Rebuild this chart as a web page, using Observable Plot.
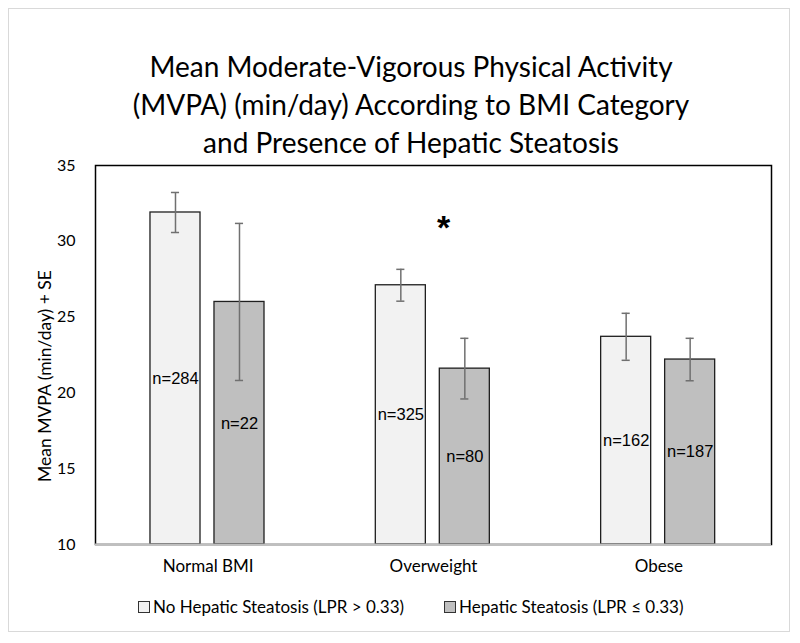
<!DOCTYPE html>
<html>
<head>
<meta charset="utf-8">
<script src="https://cdn.jsdelivr.net/npm/d3@7"></script>
<script src="https://cdn.jsdelivr.net/npm/@observablehq/plot@0.6"></script>
<style>
  body { margin: 0; background: #fff; }
  #wrap { position: relative; width: 800px; height: 643px; background: #fff; overflow: hidden; }
  #border { position: absolute; left: 8px; top: 8px; width: 782px; height: 624px; border: 1px solid #d9d9d9; box-sizing: border-box; }
  #title { position: absolute; left: 0; top: 47px; width: 822px; text-align: center; font-family: Lato, sans-serif; font-size: 28px; line-height: 38px; color: #000; }
  #chart { position: absolute; left: 0; top: 155px; }
  #legend { position: absolute; top: 596px; left: 138px; display: flex; align-items: center; font-family: Lato, sans-serif; font-size: 17px; color: #000; }
  .item { display: flex; align-items: center; }
  .sw { width: 10px; height: 10px; border: 1px solid #333; margin-right: 3px; }
</style>
</head>
<body>
<div id="wrap">
  <div id="border"></div>
  <div id="title">Mean Moderate-Vigorous Physical Activity<br>(MVPA) (min/day) According to BMI Category<br>and Presence of Hepatic Steatosis</div>
  <div id="chart"></div>
  <div id="legend"></div>
</div>
<script>
// ---- data ----
const categories = ["Normal BMI", "Overweight", "Obese"];
const series = ["No Hepatic Steatosis (LPR > 0.33)", "Hepatic Steatosis (LPR \u2264 0.33)"];
const noMean = [31.9, 27.1, 23.7];
const noSE = [1.32, 1.05, 1.55];
const noN = [284, 325, 162];
const hepMean = [26.0, 21.6, 22.2];
const hepSE = [5.18, 2.0, 1.4];
const hepN = [22, 80, 187];
const yTicks = [10, 15, 20, 25, 30, 35];
const yLabel = "Mean MVPA (min/day) + SE";
const annotations = [{category: "Overweight", label: "*", value: 30.9}];

// ---- layout ----
const seriesColors = ["#f2f2f2", "#bfbfbf"];
const slots = [[0.244, 0.466], [0.528, 0.75]];
const capHalf = 0.018;

const rows = [];
categories.forEach((c, i) => {
  [[noMean, noSE, noN], [hepMean, hepSE, hepN]].forEach(([m, s, n], k) => {
    rows.push({category: c, series: series[k], k, i, mean: m[i], se: s[i], n: n[i],
      x1: i + slots[k][0], x2: i + slots[k][1], xc: i + (slots[k][0] + slots[k][1]) / 2});
  });
});
const catIndex = new Map(categories.map((c, i) => [c, i]));

const chart = Plot.plot({
  width: 800,
  height: 424,
  marginLeft: 95,
  marginRight: 29,
  marginTop: 10,
  marginBottom: 35,
  style: {fontFamily: "Lato, sans-serif", fontSize: "16px", color: "#000", background: "transparent"},
  x: {domain: [0, 3], ticks: categories.map((c, i) => i + 0.5), tickFormat: d => categories[Math.floor(d)], tickSize: 0, tickPadding: 15, label: null},
  y: {domain: [10, 35], ticks: yTicks, tickSize: 0, tickPadding: 20, label: null},
  marks: [
    Plot.rectY(rows, {x1: "x1", x2: "x2", y1: 10, y2: "mean", fill: d => seriesColors[d.k], stroke: "#1f1f1f", strokeWidth: 1.3}),
    Plot.ruleX(rows, {x: "xc", y1: d => d.mean - d.se, y2: d => d.mean + d.se, stroke: "#707070", strokeWidth: 1.5}),
    Plot.ruleY(rows, {x1: d => d.xc - capHalf, x2: d => d.xc + capHalf, y: d => d.mean + d.se, stroke: "#707070", strokeWidth: 1.5}),
    Plot.ruleY(rows, {x1: d => d.xc - capHalf, x2: d => d.xc + capHalf, y: d => d.mean - d.se, stroke: "#707070", strokeWidth: 1.5}),
    Plot.text(rows, {x: "xc", y: d => (d.mean + 10) / 2, text: d => "n=" + d.n, fontFamily: "Liberation Sans, Arial, sans-serif", fontSize: 16.5, fill: "#000"}),
    Plot.text(annotations, {x: d => catIndex.get(d.category) + 0.5, y: "value", text: "label", dx: 10, fontFamily: "Liberation Sans, Arial, sans-serif", fontSize: 34, fontWeight: "bold", fill: "#000"}),
    Plot.text([yLabel], {frameAnchor: "left", text: d => d, rotate: -90, dx: -50, dy: 21, textAnchor: "middle", fontSize: 17.5, fill: "#000"}),
    Plot.frame({stroke: "#000", strokeWidth: 1.5}),
    Plot.ruleY([10], {stroke: "#bfbfbf", strokeWidth: 2})
  ]
});
chart.querySelectorAll("[aria-label='x-axis tick label'] text, [aria-label='x-axis tick label']").forEach(el => el.setAttribute("font-size", "17"));
document.getElementById("chart").appendChild(chart);

// legend
const legend = document.getElementById("legend");
series.forEach((s, k) => {
  const item = document.createElement("div");
  item.className = "item";
  if (k > 0) item.style.marginLeft = "40px";
  const sw = document.createElement("div");
  sw.className = "sw";
  sw.style.background = seriesColors[k];
  const t = document.createElement("span");
  t.textContent = s;
  item.appendChild(sw);
  item.appendChild(t);
  legend.appendChild(item);
});
</script>
</body>
</html>
